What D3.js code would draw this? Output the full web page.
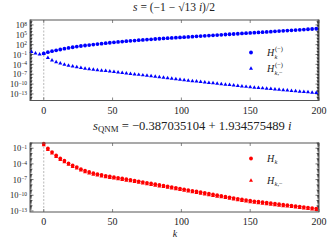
<!DOCTYPE html>
<meta charset="utf-8">
<script src="https://d3js.org/d3.v7.min.js"></script>
<style>
  body { margin: 0; background: #fff; }
  text { font-family: "Liberation Serif", "DejaVu Serif", serif; fill: #222; }
</style>
<div id="chart"></div>
<script>
// log10 of the values
var kTopH = d3.range(0, 199, 3);
var topH = [-0.66,-0.3,0.0,0.28,0.52,0.78,1.0,1.2,1.4,1.58,1.74,1.88,2.02,2.16,2.3,2.44,2.57,2.7,2.82,2.94,
  3.05,3.15,3.25,3.35,3.45,3.54,3.63,3.72,3.8,3.88,3.96,4.04,4.12,4.2,4.28,4.36,4.44,4.52,4.6,4.68,
  4.76,4.84,4.92,5.0,5.08,5.16,5.24,5.32,5.4,5.48,5.56,5.64,5.72,5.8,5.88,5.96,6.04,6.12,6.2,6.28,
  6.36,6.44,6.52,6.6,6.68,6.76,6.84];
var kTopHm = d3.range(-9, 199, 3);
var topHm = [-0.16,-0.66,-0.96,-0.8,-2.0,-2.8,-3.3,-3.7,-4.05,-4.35,-4.6,-4.85,-5.05,-5.25,-5.42,-5.58,-5.73,-5.87,-6.0,-6.13,
  -6.25,-6.4,-6.55,-6.7,-6.85,-7.0,-7.15,-7.3,-7.45,-7.6,-7.75,-7.9,-8.05,-8.2,-8.35,-8.5,-8.65,-8.8,-8.93,-9.06,
  -9.2,-9.33,-9.46,-9.6,-9.73,-9.86,-10.0,-10.13,-10.26,-10.4,-10.53,-10.66,-10.8,-10.93,-11.04,-11.15,-11.26,-11.37,-11.48,-11.59,
  -11.7,-11.81,-11.92,-12.03,-12.14,-12.25,-12.36,-12.47,-12.58,-12.69];
var kBot = d3.range(0, 199, 3);
var botH = [-0.13,-1.04,-1.73,-2.38,-2.96,-3.4,-3.9,-4.3,-4.6,-5.0,-5.3,-5.55,-5.77,-5.96,-6.12,-6.27,-6.4,-6.53,-6.66,-6.79,
  -6.92,-7.05,-7.19,-7.33,-7.47,-7.61,-7.75,-7.88,-8.02,-8.16,-8.3,-8.44,-8.58,-8.72,-8.86,-9.0,-9.14,-9.28,-9.42,-9.56,
  -9.7,-9.84,-9.98,-10.12,-10.26,-10.4,-10.54,-10.68,-10.8,-10.92,-11.05,-11.15,-11.24,-11.33,-11.42,-11.52,-11.61,-11.7,-11.8,-11.89,
  -11.98,-12.08,-12.17,-12.26,-12.36,-12.45,-12.54];
var botHm = [-0.4,-1.3,-2.0,-2.63,-3.2,-3.65,-4.15,-4.55,-4.85,-5.25,-5.55,-5.8,-6.02,-6.2,-6.37,-6.52,-6.65,-6.78,-6.91,-7.04,
  -7.17,-7.3,-7.44,-7.58,-7.72,-7.86,-8.0,-8.13,-8.27,-8.41,-8.55,-8.69,-8.83,-8.97,-9.11,-9.25,-9.39,-9.53,-9.67,-9.81,
  -9.95,-10.09,-10.23,-10.37,-10.51,-10.65,-10.79,-10.93,-11.05,-11.17,-11.3,-11.4,-11.49,-11.58,-11.67,-11.77,-11.86,-11.95,-12.05,-12.14,
  -12.23,-12.33,-12.42,-12.51,-12.61,-12.7,-12.79];
var xTicks = [0, 50, 100, 150, 200];
var topExp = [8, 5, 2, -1, -4, -7, -10, -13];
var botExp = [-1, -4, -7, -10, -13];

var W = 327, H = 240;
var svg = d3.select("#chart").append("svg").attr("width", W).attr("height", H);

var x = d3.scaleLinear().domain([-10, 200]).range([30, 319]);

function panel(y0, y1, domExp, exps, series, color, title, titleX, titleW, titleY, legendY) {
  var y = d3.scaleLog().domain([Math.pow(10, domExp[0]), Math.pow(10, domExp[1])]).range([y0, y1]);
  var g = svg.append("g");

  // dashed line at k = 0
  g.append("line").attr("x1", x(0)).attr("x2", x(0)).attr("y1", y1).attr("y2", y0)
    .attr("stroke", "#999").attr("stroke-width", 0.7).attr("stroke-dasharray", "2,1.5");

  // minor + major y ticks, both sides, inward
  for (var e = Math.ceil(domExp[0]); e <= domExp[1]; e++) {
    for (var m = 1; m < 10; m++) {
      var v = m * Math.pow(10, e);
      if (v > Math.pow(10, domExp[1]) || v < Math.pow(10, domExp[0])) continue;
      var len = exps.indexOf(e) >= 0 && m == 1 ? 3.5 : (m == 1 ? 2.5 : 1.5);
      [[30, 30 + len], [319, 319 - len]].forEach(function (p) {
        g.append("line").attr("x1", p[0]).attr("x2", p[1]).attr("y1", y(v)).attr("y2", y(v))
          .attr("stroke", "#111").attr("stroke-width", 0.6);
      });
    }
  }
  // x ticks inward top and bottom
  xTicks.forEach(function (t) {
    g.append("line").attr("x1", x(t)).attr("x2", x(t)).attr("y1", y0).attr("y2", y0 - 3)
      .attr("stroke", "#555").attr("stroke-width", 0.7);
    g.append("line").attr("x1", x(t)).attr("x2", x(t)).attr("y1", y1).attr("y2", y1 + 3)
      .attr("stroke", "#555").attr("stroke-width", 0.7);
    g.append("text").attr("x", x(t)).attr("y", y0 + 13).attr("text-anchor", "middle")
      .attr("font-size", 10).text(t);
  });
  // y tick labels
  exps.forEach(function (e) {
    var t = g.append("text").attr("x", 27).attr("y", y(Math.pow(10, e)) + 3.2)
      .attr("text-anchor", "end").attr("font-size", 8.5);
    t.append("tspan").text("10");
    t.append("tspan").attr("dy", -2.5).attr("font-size", 5.5).text(e < 0 ? "\u2212" + (-e) : e);
  });

  // markers
  var sym = d3.symbol().type(d3.symbolTriangle).size(7);
  g.selectAll(".tri").data(series[1].k.map(function (k, i) { return [k, series[1].v[i]]; }))
    .enter().append("path").attr("d", sym)
    .attr("transform", function (d) { return "translate(" + x(d[0]) + "," + y(Math.pow(10, d[1])) + ")"; })
    .attr("fill", color);
  g.selectAll(".cir").data(series[0].k.map(function (k, i) { return [k, series[0].v[i]]; }))
    .enter().append("circle").attr("r", 1.9)
    .attr("cx", function (d) { return x(d[0]); })
    .attr("cy", function (d) { return y(Math.pow(10, d[1])); })
    .attr("fill", color);

  // frame
  g.append("rect").attr("x", 30).attr("y", y1).attr("width", 289).attr("height", y0 - y1)
    .attr("fill", "none").attr("stroke", "#555").attr("stroke-width", 1);

  // title
  var tt = svg.append("text").attr("x", titleX).attr("y", titleY).attr("font-size", 10);
  title(tt);
  var bw = tt.node().getBBox().width;
  tt.attr("font-size", 10 * titleW / bw);

  // legend
  g.append("circle").attr("cx", 251).attr("cy", legendY[0]).attr("r", 1.9).attr("fill", color);
  g.append("path").attr("d", sym).attr("transform", "translate(251," + legendY[1] + ")").attr("fill", color);
  series.forEach(function (s, i) { s.label(g, 267, legendY[i]); });
}

// H with subscript (k or k,-) and optional superscript (-), each piece placed on its own
function hLabel(sub, sup) {
  return function (g, lx, ly) {
    g.append("text").attr("x", lx).attr("y", ly + 3.5).attr("font-size", 10)
      .attr("font-style", "italic").text("H");
    if (sup) g.append("text").attr("x", lx + 8).attr("y", ly - 1.5).attr("font-size", 6.5)
      .text("(\u2212)");
    var s = g.append("text").attr("x", lx + 7.5).attr("y", ly + (sup ? 6 : 5.5)).attr("font-size", 6.5);
    s.append("tspan").attr("font-style", "italic").text("k");
    if (sub == "k-") s.append("tspan").text(",\u2212");
  };
}

panel(100.5, 20, [-15, 9.5], topExp,
  [{k: kTopH, v: topH, label: hLabel("k", true)}, {k: kTopHm, v: topHm, label: hLabel("k-", true)}],
  "#0000ff",
  function (t) {
    t.append("tspan").attr("font-style", "italic").text("s");
    t.append("tspan").text(" = (\u22121 \u2212 \u221A13 ");
    t.append("tspan").attr("font-style", "italic").text("i");
    t.append("tspan").text(")/2");
  }, 133, 82, 11, [52.5, 68.5]);

panel(212, 143, [-13.2, 0], botExp,
  [{k: kBot, v: botH, label: hLabel("k", false)}, {k: kBot, v: botHm, label: hLabel("k-", false)}],
  "#ff0000",
  function (t) {
    t.append("tspan").attr("font-style", "italic").text("s");
    t.append("tspan").attr("dy", 2).attr("font-size", "0.7em").text("QNM");
    t.append("tspan").attr("dy", -2).text(" = \u22120.387035104 + 1.934575489 ");
    t.append("tspan").attr("font-style", "italic").text("i");
  }, 93, 199, 130, [158.5, 180.5]);

svg.append("text").attr("x", 175).attr("y", 237).attr("text-anchor", "middle")
  .attr("font-size", 10).attr("font-style", "italic").text("k");
</script>
